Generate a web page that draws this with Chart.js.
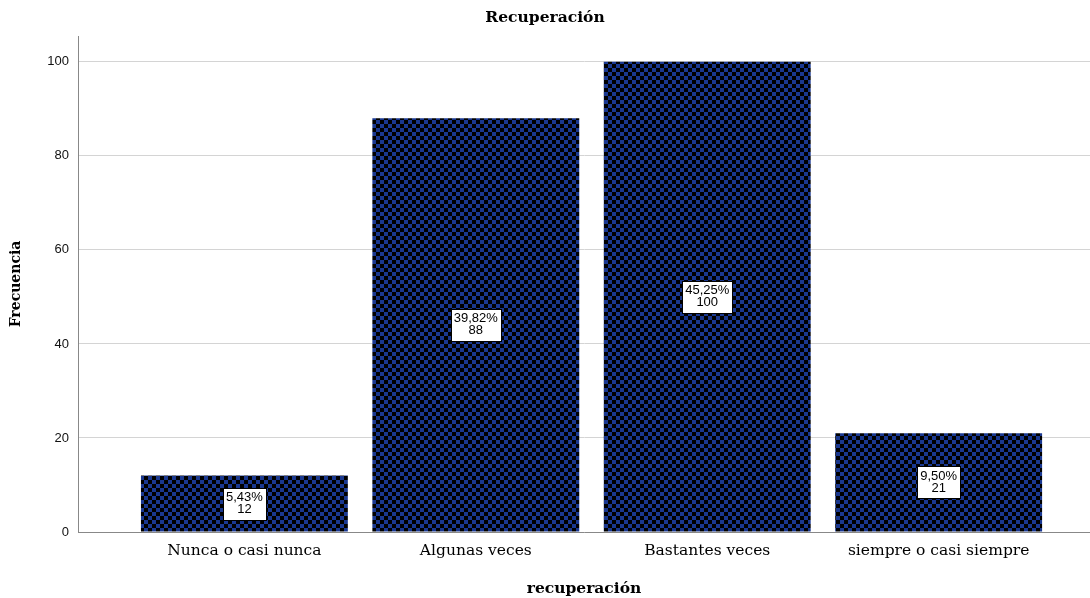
<!DOCTYPE html>
<html>
<head>
<meta charset="utf-8">
<script src="https://cdn.jsdelivr.net/npm/chart.js@4"></script>
<style>
  html, body { margin: 0; padding: 0; background: #fff; }
  #wrap { width: 1090px; height: 598px; }
</style>
</head>
<body>
<div id="wrap"><canvas id="chart"></canvas></div>
<script>
// datos del gráfico
let categorias = ['Nunca o casi nunca', 'Algunas veces', 'Bastantes veces', 'siempre o casi siempre'];
let frecuencias = [12, 88, 100, 21];
let ticksY = [0, 20, 40, 60, 80, 100];

let total = frecuencias.reduce((a, b) => a + b, 0);

// relleno a cuadros azul / negro
let hacerPatron = () => {
  let c = document.createElement('canvas');
  c.width = 8; c.height = 8;
  let g = c.getContext('2d');
  g.fillStyle = '#000000';
  g.fillRect(0, 0, 8, 8);
  g.fillStyle = '#1a3890';
  g.fillRect(0, 0, 4, 4);
  g.fillRect(4, 4, 4, 4);
  return g.createPattern(c, 'repeat');
}

// etiquetas blancas en el centro de cada barra
let etiquetas = {
  id: 'etiquetas',
  afterDatasetsDraw(chart) {
    let ctx = chart.ctx;
    let meta = chart.getDatasetMeta(0);
    ctx.save();
    ctx.font = '13px "Liberation Sans", Arial, sans-serif';
    ctx.textAlign = 'center';
    ctx.textBaseline = 'middle';
    meta.data.forEach((bar, i) => {
      let pct = (frecuencias[i] / total * 100).toFixed(2).replace('.', ',') + '%';
      let lineas = [pct, String(frecuencias[i])];
      let w = Math.round(Math.max(...lineas.map(t => ctx.measureText(t).width)) + 6);
      let h = 32;
      let cx = bar.x;
      let cy = (bar.y + bar.base) / 2;
      let x0 = Math.round(cx - w / 2) + 0.5;
      let y0 = Math.round(cy - h / 2) + 0.5;
      ctx.fillStyle = '#ffffff';
      ctx.fillRect(x0, y0, w, h);
      ctx.strokeStyle = '#000000';
      ctx.lineWidth = 1;
      ctx.strokeRect(x0, y0, w, h);
      ctx.fillStyle = '#000000';
      ctx.fillText(lineas[0], cx, cy - 6);
      ctx.fillText(lineas[1], cx, cy + 6);
    });
    ctx.restore();
  }
}

var ctx = document.getElementById('chart').getContext('2d');
var chart = new Chart(ctx, {
  type: 'bar',
  data: {
    datasets: [{
      label: 'Frecuencia',
      data: frecuencias.map((v, i) => ({ x: i, y: v })),
      backgroundColor: hacerPatron(),
      borderWidth: 0,
      barPercentage: 0.894,
      categoryPercentage: 1
    }]
  },
  options: {
    responsive: true,
    maintainAspectRatio: false,
    animation: false,
    layout: { padding: 0 },
    plugins: {
      legend: { display: false },
      tooltip: { enabled: false },
      title: {
        display: true,
        text: 'Recuperación',
        color: '#000',
        font: { family: '"DejaVu Serif", serif', size: 15.5, weight: 'bold' },
        padding: { top: 9, bottom: 8.4 }
      }
    },
    scales: {
      x: {
        type: 'linear',
        offset: false,
        min: -0.719,
        max: 3.654,
        afterBuildTicks: (s) => { s.ticks = categorias.map((c, i) => ({ value: i })); },
        afterFit: (s) => { s.height = 66; },
        grid: { display: false, drawTicks: false },
        border: { display: true, color: '#888888', width: 1 },
        ticks: {
          autoSkip: false,
          maxRotation: 0,
          padding: 10,
          color: '#000',
          font: { family: '"DejaVu Serif", serif', size: 15.5 },
          callback: (v) => categorias[v]
        },
        title: {
          display: true,
          text: 'recuperación',
          color: '#000',
          font: { family: '"DejaVu Serif", serif', size: 15.5, weight: 'bold' },
          padding: { top: 0, bottom: 0 }
        }
      },
      y: {
        min: 0,
        max: 105.5,
        afterBuildTicks: (s) => { s.ticks = ticksY.map(v => ({ value: v })); },
        afterFit: (s) => { s.width = 78; },
        grid: { color: '#d4d4d4', drawTicks: false },
        border: { display: true, color: '#888888', width: 1 },
        ticks: {
          padding: 9,
          color: '#111',
          font: { family: '"Liberation Sans", Arial, sans-serif', size: 13 }
        },
        title: {
          display: true,
          text: 'Frecuencia',
          color: '#000',
          font: { family: '"DejaVu Serif", serif', size: 14, weight: 'bold' },
          padding: { top: 8, bottom: 0 }
        }
      }
    }
  },
  plugins: [etiquetas]
});
</script>
</body>
</html>
